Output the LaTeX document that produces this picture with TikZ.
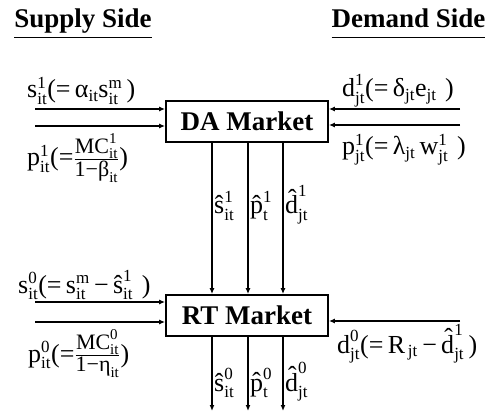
\documentclass[tikz,border=0pt]{standalone}
\usepackage{amsmath}
\usepackage{fontspec}
\setmainfont{Liberation Serif}
\usetikzlibrary{arrows.meta}

% script text for indices
\newcommand{\tinyfs}{\fontsize{17}{18}\selectfont}
\newcommand{\fracfs}{\fontsize{22}{24}\selectfont}
\newcommand{\fracix}{\fontsize{15}{16}\selectfont}
% variable with upper and lower index
\newcommand{\sv}[3]{\ensuremath{\text{#1}^{\text{\tinyfs #2}}_{\text{\tinyfs #3}}}}
% variable with lower index only
\newcommand{\lo}[2]{\ensuremath{\text{#1}_{\text{\tinyfs #2}}}}
% marginal-cost price fraction
\newcommand{\mcfrac}[2]{\ensuremath{\frac{\text{\fracfs MC}^{\text{\fracix #1}}_{\text{\fracix it}}}{\text{\fracfs 1−#2}_{\text{\fracix it}}}}}

\begin{document}
\begin{tikzpicture}[x=1pt,y=1pt,
    market/.style={draw, line width=1.8pt, minimum width=162pt, minimum height=41pt, inner sep=0pt,
      font=\fontsize{27}{30}\selectfont\bfseries},
    side/.style={anchor=base, font=\fontsize{27}{30}\selectfont\bfseries},
    lab/.style={anchor=base west, inner sep=0pt, font=\fontsize{26}{29}\selectfont},
    arr/.style={-{Latex[length=6pt,width=5pt]}, line width=1.6pt}]
        \useasboundingbox (0,0) rectangle (493,413);

        % Headings
        \node[side] (supply) at (83,385) {\underline{Supply Side}};
        \node[side] (demand) at (408.5,385) {\underline{Demand Side\vphantom{y}}};

        % Markets
        \node[market] (da) at (247,291.5) {DA Market};
        \node[market] (rt) at (247,97.5) {RT Market};

        % Day-ahead inputs
        \coordinate (sDAin) at (35,304);
        \coordinate (pDAin) at (35,287);
        \coordinate (dDAin) at (460,304);
        \coordinate (wDAin) at (460,288);
        \draw[arr] (sDAin) -- (sDAin -| da.west);
        \draw[arr] (pDAin) -- (pDAin -| da.west);
        \draw[arr] (dDAin) -- (dDAin -| da.east);
        \draw[arr] (wDAin) -- (wDAin -| da.east);

        \node[lab] (sDA) at (27,315) {\sv{s}{1}{it}(=\,\lo{α}{it}\sv{s}{m}{it}\,)};
        \node[lab] (pDA) at (27,247) {\sv{p}{1}{it}(=\mcfrac{1}{β})};
        \node[lab] (dDA) at (342,316) {\sv{d}{1}{jt}(=\,\lo{δ}{jt}\lo{e}{jt}\,\,)};
        \node[lab] (wDA) at (342,258) {\sv{p}{1}{jt}(=\,\lo{λ}{jt}\,\sv{w}{1}{jt}\,\,)};

        % Day-ahead results passed down
        \foreach \x in {212,248,283}
          \draw[arr] (\x,0 |- da.south) -- (\x,0 |- rt.north);
        \node[lab] (sHat1) at (214,199) {\sv{ŝ}{1}{it}};
        \node[lab] (pHat1) at (250,199) {\sv{p̂}{1}{t}};
        \node[lab] (dHat1) at (285,199) {\sv{d̂}{1}{jt}};

        % Real-time inputs
        \coordinate (sRTin) at (35,111);
        \coordinate (pRTin) at (35,91);
        \coordinate (dRTin) at (460,92);
        \draw[arr] (sRTin) -- (sRTin -| rt.west);
        \draw[arr] (pRTin) -- (pRTin -| rt.west);
        \draw[arr] (dRTin) -- (dRTin -| rt.east);

        \node[lab] (sRT) at (18,120) {\sv{s}{0}{it}(=\,\sv{s}{m}{it}\,−\,\sv{ŝ}{1}{it}\,\,)};
        \node[lab] (pRT) at (28,51) {\sv{p}{0}{it}(=\mcfrac{0}{η})};
        \node[lab] (dRT) at (337,60) {\sv{d}{0}{jt}(=\,\lo{R}{\,jt}\,−\,\sv{d̂}{1}{jt}\,)};

        % Real-time results
        \foreach \x in {212,248,283}
          \draw[arr] (\x,0 |- rt.south) -- (\x,2);
        \node[lab] (sHat0) at (214,22) {\sv{ŝ}{0}{it}};
        \node[lab] (pHat0) at (250,22) {\sv{p̂}{0}{t}};
        \node[lab] (dHat0) at (285,22) {\sv{d̂}{0}{jt}};
    \end{tikzpicture}
\end{document}
